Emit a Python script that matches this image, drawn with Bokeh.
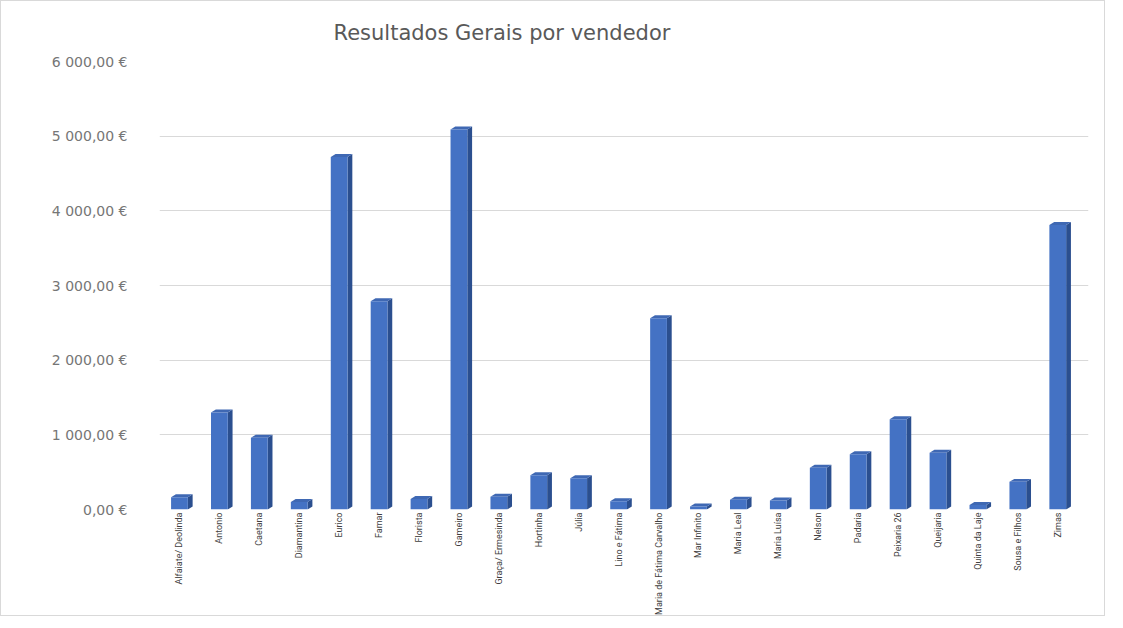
import math
from bokeh.plotting import figure
from bokeh.models import FixedTicker, Range1d
from bokeh.embed import file_html
from bokeh.resources import INLINE

vendedores = [
    "Alfaiate/ Deolinda", "Antonio", "Caetana", "Diamantina", "Eurico", "Famar",
    "Florista", "Gameiro", "Graça/ Ermesinda", "Hortinha", "Júlia", "Lino e Fátima",
    "Maria de Fátima Carvalho", "Mar Infinito", "Maria Leal", "Maria Luísa", "Nelson",
    "Padaria", "Peixaria 26", "Queijaria", "Quinta da Laje", "Sousa e Filhos", "Zimas",
]
valores = [
    165, 1300, 960, 100, 4720, 2790, 140, 5090, 170, 460, 420, 110,
    2560, 40, 130, 120, 560, 740, 1210, 760, 60, 370, 3810,
]
y_ticks = [0, 1000, 2000, 3000, 4000, 5000, 6000]
y_tick_labels = ["0,00 €", "1 000,00 €", "2 000,00 €", "3 000,00 €",
                 "4 000,00 €", "5 000,00 €", "6 000,00 €"]

xs = list(range(len(vendedores)))
w = 0.42   # front face width (category units)
d = 0.12   # 3D depth offset in x
dy = 40    # 3D depth offset in y (data units)

p = figure(width=1105, height=616, output_backend="svg", toolbar_location=None,
           x_range=Range1d(-0.5, 22.77), y_range=Range1d(0, 6000),
           min_border_left=158, min_border_right=18, min_border_top=60,
           min_border_bottom=105, background_fill_color="white",
           border_fill_color="white")
p.styles = {"border": "1px solid #d9d9d9"}
p.outline_line_color = None

# 3D side and top faces
side_x, side_y, top_x, top_y = [], [], [], []
for x, v in zip(xs, valores):
    r = x + w / 2
    l = x - w / 2
    side_x.append([r, r + d, r + d, r])
    side_y.append([0, dy, v + dy, v])
    top_x.append([l, r, r + d, l + d])
    top_y.append([v, v, v + dy, v + dy])
p.patches(side_x, side_y, fill_color="#2b4f8f", line_color=None)
p.patches(top_x, top_y, fill_color="#3f68b3", line_color=None)
p.vbar(x=xs, top=valores, width=w, bottom=0, fill_color="#4472c4", line_color=None)

# x axis: rotated category names
p.xaxis.ticker = FixedTicker(ticks=xs)
p.xaxis.major_label_overrides = {i: n for i, n in zip(xs, vendedores)}
p.xaxis.major_label_orientation = math.pi / 2
p.xaxis.major_label_text_font = "Roboto"
p.xaxis.major_label_text_font_size = "9px"
p.xaxis.major_label_text_color = "#404040"
p.xaxis.major_label_standoff = 3
p.xaxis.major_tick_out = 0
p.xaxis.major_tick_in = 0
p.xaxis.minor_tick_out = 0
p.xaxis.minor_tick_in = 0
p.xaxis.axis_label_standoff = 0
p.xaxis.axis_line_color = None
p.xaxis.major_tick_line_color = None
p.xaxis.minor_tick_line_color = None

p.yaxis.ticker = FixedTicker(ticks=y_ticks)
p.yaxis.major_label_overrides = {t: s for t, s in zip(y_ticks, y_tick_labels)}
p.yaxis.major_label_text_font = "DejaVu Sans"
p.yaxis.major_label_text_font_size = "14px"
p.yaxis.major_label_text_color = "#767676"
p.yaxis.major_label_standoff = 26
p.yaxis.axis_line_color = None
p.yaxis.major_tick_line_color = None
p.yaxis.minor_tick_line_color = None

p.xgrid.grid_line_color = None
p.ygrid.grid_line_color = "#d9d9d9"
p.ygrid.ticker = FixedTicker(ticks=y_ticks)

p.title.text = "Resultados Gerais por vendedor"
p.title.align = "left"
p.title.text_font = "DejaVu Sans"
p.title.text_font_style = "normal"
p.title.text_font_size = "21px"
p.title.text_color = "#595959"
p.title.offset = 174
p.title.standoff = 33

open("out.html", "w").write(file_html(p, INLINE))
